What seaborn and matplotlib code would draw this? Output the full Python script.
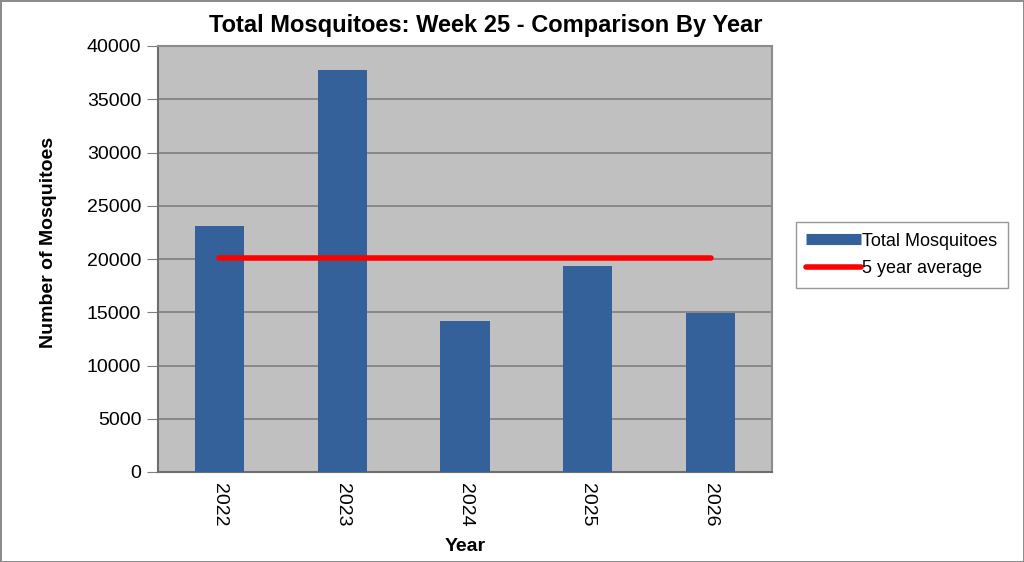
import matplotlib.pyplot as plt
import numpy as np
import pandas as pd
import seaborn as sns
from matplotlib.lines import Line2D

# values
years = ["2022", "2023", "2024", "2025", "2026"]
total_mosquitoes = [23100, 37750, 14200, 19350, 14950]
five_year_avg = [20100, 20100, 20100, 20100, 20100]

sns.set_style("white")
plt.rcParams['font.family'] = ['Liberation Sans', 'DejaVu Sans']
plt.rcParams['text.color'] = 'black'
plt.rcParams['axes.labelcolor'] = 'black'
plt.rcParams['xtick.color'] = 'black'
plt.rcParams['ytick.color'] = 'black'

df = pd.DataFrame({"Year": years, "Total": total_mosquitoes, "Avg": five_year_avg})

fig = plt.figure(figsize=(10.24, 5.62), dpi=100, edgecolor="#8c8c8c", linewidth=2)
ax = fig.add_axes([158 / 1024, 1 - 472 / 562, (772 - 158) / 1024, (472 - 46) / 562])
ax.set_facecolor("#c0c0c0")

sns.barplot(data=df, x="Year", y="Total", color="#35619a", width=0.4,
            saturation=1, linewidth=0, ax=ax, zorder=3)
sns.lineplot(x=np.arange(len(years)), y=df["Avg"], color="#ff0000", linewidth=4,
             solid_capstyle="round", ax=ax, zorder=4)

ax.set_xlim(-0.5, len(years) - 0.5)
ax.set_ylim(0, 40000)
ax.set_yticks(np.arange(0, 40001, 5000))
ax.yaxis.grid(True, color="#7f7f7f", linewidth=1.2, zorder=1)
ax.set_axisbelow(True)

ax.set_xticks(np.arange(len(years)))
ax.set_xticklabels(years, rotation=-90, fontsize=14)
ax.set_xticks(np.arange(-0.5, len(years)), minor=True)
ax.tick_params(axis="x", which="major", length=0, pad=8)
ax.tick_params(axis="x", which="minor", length=6, color="#7f7f7f", direction="out")
ax.tick_params(axis="y", length=8, color="#7f7f7f", direction="out", labelsize=14,
               left=True, pad=4)

for side in ["left", "bottom"]:
    ax.spines[side].set_color("#6e6e6e")
    ax.spines[side].set_linewidth(1.5)
for side in ["top", "right"]:
    ax.spines[side].set_color("#8c8c8c")
    ax.spines[side].set_linewidth(1.5)

ax.set_xlabel("Year", fontsize=14, fontweight="bold", labelpad=8)
ax.set_ylabel("Number of Mosquitoes", fontsize=14, fontweight="bold")
ax.yaxis.set_label_coords(-0.164, 0.54)
ax.set_title("Total Mosquitoes: Week 25 - Comparison By Year", fontsize=17,
             fontweight="bold", x=0.533, pad=10)

handles = [Line2D([0], [0], color="#35619a", linewidth=8, solid_capstyle="butt"),
           Line2D([0], [0], color="#ff0000", linewidth=4, solid_capstyle="round")]
leg = fig.legend(handles, ["Total Mosquitoes", "5 year average"], loc="center",
                 bbox_to_anchor=(902 / 1024, 1 - 255 / 562), fontsize=13,
                 frameon=True, fancybox=False, edgecolor="#7f7f7f",
                 handlelength=3.0, handletextpad=0.1, borderpad=0.6, labelspacing=0.6,
                 borderaxespad=0)
leg.get_frame().set_linewidth(1)

fig.savefig("out.png", dpi=100, edgecolor=fig.get_edgecolor())
